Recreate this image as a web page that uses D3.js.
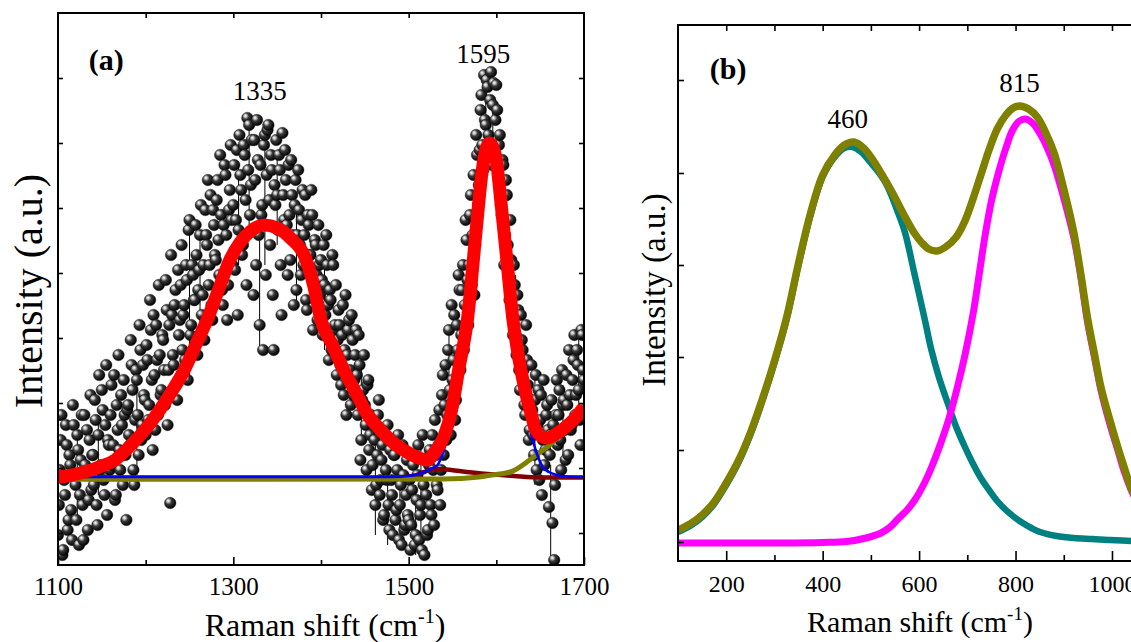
<!DOCTYPE html>
<html><head><meta charset="utf-8">
<script src="https://cdn.jsdelivr.net/npm/d3@7"></script>
<style>
body{margin:0;background:#fff;}
svg{display:block;}
text{font-family:"Liberation Serif","Times New Roman",serif;fill:#000;}
</style>
</head><body>
<svg id="c" width="1131" height="642"></svg>
<script>
// ---------- Panel (a) data: measured spectrum (two interleaved read-outs) ----------
const ramanShiftA = [
1100,1102,1104,1106,1108,1110,1112,1114,1116,1118,
1120,1122,1124,1126,1128,1130,1132,1134,1136,1138,
1140,1142,1144,1146,1148,1150,1152,1154,1156,1158,
1160,1162,1164,1166,1168,1170,1172,1174,1176,1178,
1180,1182,1184,1186,1188,1190,1192,1194,1196,1198,
1200,1202,1204,1206,1208,1210,1212,1214,1216,1218,
1220,1222,1224,1226,1228,1230,1232,1234,1236,1238,
1240,1242,1244,1246,1248,1250,1252,1254,1256,1258,
1260,1262,1264,1266,1268,1270,1272,1274,1276,1278,
1280,1282,1284,1286,1288,1290,1292,1294,1296,1298,
1300,1302,1304,1306,1308,1310,1312,1314,1316,1318,
1320,1322,1324,1326,1328,1330,1332,1334,1336,1338,
1340,1342,1344,1346,1348,1350,1352,1354,1356,1358,
1360,1362,1364,1366,1368,1370,1372,1374,1376,1378,
1380,1382,1384,1386,1388,1390,1392,1394,1396,1398,
1400,1402,1404,1406,1408,1410,1412,1414,1416,1418,
1420,1422,1424,1426,1428,1430,1432,1434,1436,1438,
1440,1442,1444,1446,1448,1450,1452,1454,1456,1458,
1460,1462,1464,1466,1468,1470,1472,1474,1476,1478,
1480,1482,1484,1486,1488,1490,1492,1494,1496,1498,
1500,1502,1504,1506,1508,1510,1512,1514,1516,1518,
1520,1522,1524,1526,1528,1530,1532,1534,1536,1538,
1540,1542,1544,1546,1548,1550,1552,1554,1556,1558,
1560,1562,1564,1566,1568,1570,1572,1574,1576,1578,
1580,1582,1584,1586,1588,1590,1592,1594,1596,1598,
1600,1602,1604,1606,1608,1610,1612,1614,1616,1618,
1620,1622,1624,1626,1628,1630,1632,1634,1636,1638,
1640,1642,1644,1646,1648,1650,1652,1654,1656,1658,
1660,1662,1664,1666,1668,1670,1672,1674,1676,1678,
1680,1682,1684,1686,1688,1690,1692,1694,1696,1698,
1700];
const intensityA = [
30,95,150,15,70,120,45,100,25,140,
80,130,20,105,60,150,90,35,125,75,
110,165,60,130,95,175,85,140,50,120,
150,100,190,70,135,115,170,80,150,45,
160,120,200,95,145,185,110,215,140,170,
130,205,160,235,115,190,240,150,210,175,
225,160,255,195,62,250,200,275,165,230,
280,215,260,300,185,345,240,290,265,310,
275,330,250,300,355,320,280,370,245,340,
305,385,290,350,260,400,330,280,375,345,
360,295,415,335,390,310,420,365,447,440,
380,335,425,300,405,240,350,215,430,390,
440,320,395,215,360,370,410,300,432,345,
385,290,350,405,330,360,275,395,320,345,
300,370,255,340,310,350,285,320,245,300,
305,230,280,330,260,275,215,300,240,190,
255,200,230,170,270,210,245,160,225,185,
235,150,200,125,175,160,95,185,130,75,
140,60,110,165,85,120,50,95,140,35,
85,30,110,55,130,60,20,90,40,105,
45,15,75,110,30,90,25,60,130,10,
70,35,115,50,95,145,80,120,60,170,
110,200,150,235,130,185,250,165,215,275,
230,300,260,325,240,350,280,390,320,410,
380,455,420,490,440,478,405,493,460,420,
480,390,430,350,400,330,370,290,345,255,
300,230,270,195,250,215,160,240,180,135,
200,130,165,95,175,145,70,185,115,160,
58,130,42,5,150,120,175,95,160,135,
190,110,170,140,205,150,215,175,120,230,
185];
const ramanShiftA2 = [
1101,1103,1105,1107,1109,1111,1113,1115,1117,1119,
1121,1123,1125,1127,1129,1131,1133,1135,1137,1139,
1141,1143,1145,1147,1149,1151,1153,1155,1157,1159,
1161,1163,1165,1167,1169,1171,1173,1175,1177,1179,
1181,1183,1185,1187,1189,1191,1193,1195,1197,1199,
1201,1203,1205,1207,1209,1211,1213,1215,1217,1219,
1221,1223,1225,1227,1229,1231,1233,1235,1237,1239,
1241,1243,1245,1247,1249,1251,1253,1255,1257,1259,
1261,1263,1265,1267,1269,1271,1273,1275,1277,1279,
1281,1283,1285,1287,1289,1291,1293,1295,1297,1299,
1301,1303,1305,1307,1309,1311,1313,1315,1317,1319,
1321,1323,1325,1327,1329,1331,1333,1335,1337,1339,
1341,1343,1345,1347,1349,1351,1353,1355,1357,1359,
1361,1363,1365,1367,1369,1371,1373,1375,1377,1379,
1381,1383,1385,1387,1389,1391,1393,1395,1397,1399,
1401,1403,1405,1407,1409,1411,1413,1415,1417,1419,
1421,1423,1425,1427,1429,1431,1433,1435,1437,1439,
1441,1443,1445,1447,1449,1451,1453,1455,1457,1459,
1461,1463,1465,1467,1469,1471,1473,1475,1477,1479,
1481,1483,1485,1487,1489,1491,1493,1495,1497,1499,
1501,1503,1505,1507,1509,1511,1513,1515,1517,1519,
1521,1523,1525,1527,1529,1531,1533,1535,1537,1539,
1541,1543,1545,1547,1549,1551,1553,1555,1557,1559,
1561,1563,1565,1567,1569,1571,1573,1575,1577,1579,
1581,1583,1585,1587,1589,1591,1593,1595,1597,1599,
1601,1603,1605,1607,1609,1611,1613,1615,1617,1619,
1621,1623,1625,1627,1629,1631,1633,1635,1637,1639,
1641,1643,1645,1647,1649,1651,1653,1655,1657,1659,
1661,1663,1665,1667,1669,1671,1673,1675,1677,1679,
1681,1683,1685,1687,1689,1691,1693,1695,1697,1699];
const intensityA2 = [
60,125,10,85,140,35,110,55,160,90,
45,115,70,150,25,100,135,65,170,110,
80,145,40,190,100,155,70,200,125,95,
180,120,65,160,210,95,140,185,110,155,
130,225,175,80,195,150,240,125,200,165,
220,145,265,185,250,135,205,280,170,230,
195,285,140,240,310,210,260,180,295,245,
320,250,205,285,335,230,300,265,340,210,
295,360,270,225,330,385,300,260,355,310,
365,325,410,275,340,390,245,355,420,300,
400,345,250,430,375,320,410,280,395,350,
425,270,385,445,330,400,360,420,290,435,
365,410,270,380,425,335,395,250,370,415,
340,400,305,370,260,385,330,355,290,375,
330,265,350,310,375,235,325,290,340,270,
285,320,250,300,205,265,310,235,280,225,
240,180,260,215,150,235,195,250,170,210,
190,230,105,165,210,140,180,115,150,100,
125,80,150,70,105,45,130,85,60,115,
70,110,45,95,25,80,120,35,70,50,
85,40,100,20,65,120,50,15,80,105,
30,100,60,130,40,110,75,155,95,190,
160,125,215,175,260,205,145,240,290,195,
275,215,345,285,300,370,330,270,430,360,
415,470,395,445,485,430,465,400,482,445,
455,420,360,405,300,385,320,265,305,230,
280,210,255,175,225,195,150,205,125,165,
155,110,190,140,85,170,125,100,150,135,
110,165,140,80,185,150,125,195,165,105,
160,215,135,185,230,170,200,145,235,195];
// error bars [shift, low, high]
const errorBarsA = [
[1122,40,130],[1146,70,150],[1190,90,190],[1250,180,345],[1262,240,330],
[1306,300,400],[1318,330,447],[1330,215,330],[1336,300,430],[1350,320,410],
[1372,260,360],[1404,215,300],[1446,120,210],[1462,30,120],[1476,20,90],
[1490,15,100],[1508,10,80],[1514,20,120],[1546,150,240],[1588,420,490],
[1596,410,470],[1622,200,290],[1644,80,190],[1662,5,100],[1676,110,180],[1694,160,230]];

// fit curves [shift, intensity]
const fitSumA = [[1100,88],[1110,89],[1130,93],[1150,99],[1165,105],[1180,117],[1208,145],[1225,167],[1244,195],
[1257,220],[1270,245],[1283,275],[1296,305],[1308,323],[1320,334],[1335,340],[1350,337],[1365,327],[1383,305],
[1392,278],[1400,245],[1413,220],[1426,195],[1440,172],[1452,152],[1468,135],[1483,122],[1500,112],[1512,107],
[1521,105],[1530,113],[1540,128],[1549,155],[1557,195],[1567,245],[1577,335],[1584,395],[1588,415],[1592,422],
[1596,418],[1600,405],[1605,365],[1612,305],[1619,245],[1626,205],[1632,178],[1640,150],[1645,135],[1651,129],
[1658,127],[1668,131],[1679,138],[1690,147],[1700,158]];
const gBandA = [[1100,88],[1480,88],[1500,89],[1515,92],[1525,96],[1533,100],[1540,115],[1549,145],[1557,188],
[1567,240],[1577,330],[1584,390],[1588,410],[1592,417],[1596,413],[1600,400],[1605,360],[1612,298],[1619,238],
[1626,196],[1632,165],[1638,138],[1646,112],[1653,98],[1660,93],[1669,90],[1680,88.5],[1700,88]];
const highBandA = [[1100,85.7],[1540,86],[1560,86.5],[1580,88],[1595,90],[1616,93],[1638,105],[1650,113],
[1661,120],[1670,128],[1680,137],[1690,148],[1700,160]];
const shoulderA = [[1100,87.5],[1490,87.5],[1505,89],[1518,93],[1528,96],[1533,96],[1562,93.5],[1590,91],
[1620,89],[1650,87.5],[1700,87.5]];

const xTicksMajorA = [1100,1300,1500,1700];
const xTicksMinorA = [1200,1400,1600];
const xTicksTopA = [1200,1300,1400,1500,1600];
const yTicksA = [32,97,162,227,292,357,422,487];

// ---------- Panel (b) data ----------
const sumB = [[100,31],[125,37],[150,46],[175,59],[200,78],[225,100],[250,128],[275,162],[300,200],[325,243],
[350,298],[375,348],[400,386],[425,406],[445,416],[465,419],[485,413],[500,404],[521,388],[545,368],[571,344],
[590,328],[606,318],[620,312],[637,310],[655,314],[677,324],[695,340],[711,361],[728,386],[745,411],[762,432],
[780,446],[795,453],[809,455],[827,452],[845,444],[862,429],[880,408],[900,372],[921,328],[935,288],[950,241],
[964,206],[977,174],[995,142],[1012,114],[1025,94],[1039,74],[1055,58],[1070,45],[1085,36],[1100,28]];
const band460B = [[100,29],[125,35],[150,44],[175,57],[200,76],[225,98],[250,126],[275,160],[300,198],[325,241],
[350,296],[375,346],[400,384],[425,404],[445,413],[462,414],[480,409],[500,398],[520,386],[535,374],[555,350],
[571,328],[590,288],[612,241],[625,212],[641,184],[660,157],[677,134],[695,114],[711,98],[728,83],[745,71],
[762,60],[780,51],[797,44],[815,38],[833,33],[851,29],[885,25],[921,23],[960,22],[992,21],[1039,20],[1100,20]];
const band815B = [[100,18],[300,18],[400,18.5],[450,19.5],[490,23],[521,28],[540,34],[556,42],[575,51],[591,61],
[610,77],[626,94],[645,118],[661,141],[680,175],[696,208],[713,250],[725,288],[737,326],[750,360],[765,389],
[780,413],[794,431],[808,440],[821,442],[835,438],[850,428],[865,414],[880,396],[900,363],[921,323],[935,285],
[950,237],[964,203],[977,171],[995,138],[1012,111],[1025,90],[1039,72],[1055,56],[1070,43],[1085,33],[1100,26]];
const xTicksMajorB = [200,400,600,800,1000];
const xTicksMinorB = [300,500,700,900];
const xTicksTopB = [200,300,400,500,600,700,800,900,1000];
const yTicksB = [19,111,204,296,388,481];

const peakLabelsA = [{t:"1335",x:1330,v:465},{t:"1595",x:1585,v:502}];
const peakLabelsB = [{t:"460",x:452,v:433},{t:"815",x:808,v:469}];

// ---------- drawing ----------
const svg = d3.select("#c");
svg.append("rect").attr("width",1131).attr("height",642).attr("fill","#fff");
const defs = svg.append("defs");
const grad = defs.append("radialGradient").attr("id","ball")
  .attr("cx","0.38").attr("cy","0.38").attr("r","0.62").attr("fx","0.32").attr("fy","0.3");
[[0,"#ffffff"],[0.18,"#c8c8c8"],[0.45,"#3a3a3a"],[1,"#000000"]].forEach(s=>
  grad.append("stop").attr("offset",s[0]).attr("stop-color",s[1]));

function frameAxes(g, x, y, cfg){
  const [x0,x1]=x.range(), [y0,y1]=y.range();
  const styleAxis = sel => { sel.select(".domain").remove(); sel.selectAll(".tick line").attr("stroke","#000").attr("stroke-width",1.6); };
  g.append("g").attr("transform",`translate(0,${y0})`)
    .call(d3.axisBottom(x).tickValues(cfg.major).tickSize(-cfg.majorLen).tickPadding(cfg.pad).tickFormat(d3.format("d")))
    .call(styleAxis).call(s=>s.selectAll("text").style("font-size",cfg.font+"px").style("font-family","Liberation Serif").attr("fill","#000"));
  g.append("g").attr("transform",`translate(0,${y0})`)
    .call(d3.axisBottom(x).tickValues(cfg.minor).tickSize(-cfg.minorLen).tickFormat("")).call(styleAxis);
  g.append("g").attr("transform",`translate(0,${y1})`)
    .call(d3.axisTop(x).tickValues(cfg.top).tickSize(-cfg.minorLen).tickFormat("")).call(styleAxis);
  g.append("g").attr("transform",`translate(${x0},0)`)
    .call(d3.axisLeft(y).tickValues(cfg.yt).tickSize(-cfg.minorLen).tickFormat("")).call(styleAxis);
  g.append("g").attr("transform",`translate(${x1},0)`)
    .call(d3.axisRight(y).tickValues(cfg.yt).tickSize(-cfg.minorLen).tickFormat("")).call(styleAxis);
  g.append("rect").attr("x",x0).attr("y",y1).attr("width",x1-x0).attr("height",y0-y1)
    .attr("fill","none").attr("stroke","#000").attr("stroke-width",2);
}
function xTitle(x,y,size,supSize,shift){
  const t = svg.append("text").attr("x",x).attr("y",y).attr("text-anchor","middle").style("font-size",size+"px");
  t.append("tspan").text("Raman shift (cm");
  t.append("tspan").attr("dy",-shift).style("font-size",supSize+"px").text("-1");
  t.append("tspan").attr("dy",shift).text(")");
}

// Panel (a)
const xA = d3.scaleLinear().domain([1100,1700]).range([58,584]);
const yA = d3.scaleLinear().domain([0,552]).range([565,13]);
defs.append("clipPath").attr("id","clipA").append("rect").attr("x",58).attr("y",13).attr("width",526).attr("height",552);
const gA = svg.append("g");
const plotA = gA.append("g").attr("clip-path","url(#clipA)");
plotA.selectAll("line.err").data(errorBarsA).join("line").attr("class","err")
  .attr("x1",d=>xA(d[0])).attr("x2",d=>xA(d[0])).attr("y1",d=>yA(d[1])).attr("y2",d=>yA(d[2]))
  .attr("stroke","#000").attr("stroke-width",1);
const pts = ramanShiftA.map((x,i)=>[x,intensityA[i]])
  .concat(ramanShiftA2.map((x,i)=>[x,intensityA2[i]]))
  .sort((a,b)=>a[0]-b[0]);
plotA.selectAll("circle").data(pts).join("circle")
  .attr("cx",d=>xA(d[0])).attr("cy",d=>yA(d[1])).attr("r",5.8)
  .attr("fill","url(#ball)").attr("stroke","#111").attr("stroke-width",0.4);
const lineA = d3.line().x(d=>xA(d[0])).y(d=>yA(d[1])).curve(d3.curveMonotoneX);
[[shoulderA,"#800000",4.5],[highBandA,"#808000",5],[gBandA,"#0000ff",2.6],[fitSumA,"#ff0000",13]].forEach(([d,c,w])=>
  plotA.append("path").datum(d).attr("d",lineA).attr("fill","none").attr("stroke",c).attr("stroke-width",w).attr("stroke-linejoin","round"));
frameAxes(gA,xA,yA,{major:xTicksMajorA,minor:xTicksMinorA,top:xTicksTopA,yt:yTicksA,majorLen:8,minorLen:5,pad:12,font:25});
gA.selectAll(".pk").data(peakLabelsA).join("text").attr("class","pk")
  .attr("x",d=>xA(d.x)).attr("y",d=>yA(d.v)).attr("text-anchor","middle").style("font-size","27px").text(d=>d.t);
gA.append("text").attr("x",xA(1135)).attr("y",yA(495)).style("font-size","30px").style("font-weight","bold").text("(a)");
svg.append("text").attr("transform","translate(42,291) rotate(-90)").attr("text-anchor","middle").style("font-size","40px").text("Intensity (a.u.)");
xTitle(325,636,32,20,13);

// Panel (b)
const xB = d3.scaleLinear().domain([100,1100]).range([678,1160.2]);
const yB = d3.scaleLinear().domain([0,536]).range([561,25]);
defs.append("clipPath").attr("id","clipB").append("rect").attr("x",678).attr("y",25).attr("width",482).attr("height",536);
const gB = svg.append("g");
const plotB = gB.append("g").attr("clip-path","url(#clipB)");
const lineB = d3.line().x(d=>xB(d[0])).y(d=>yB(d[1])).curve(d3.curveCatmullRom.alpha(0.5));
[[band460B,"#008080",6.5],[band815B,"#ff00ff",7],[sumB,"#808000",7.5]].forEach(([d,c,w])=>
  plotB.append("path").datum(d).attr("d",lineB).attr("fill","none").attr("stroke",c).attr("stroke-width",w).attr("stroke-linejoin","round"));
frameAxes(gB,xB,yB,{major:xTicksMajorB,minor:xTicksMinorB,top:xTicksTopB,yt:yTicksB,majorLen:10,minorLen:6,pad:14,font:24});
gB.selectAll(".pk").data(peakLabelsB).join("text").attr("class","pk")
  .attr("x",d=>xB(d.x)).attr("y",d=>yB(d.v)).attr("text-anchor","middle").style("font-size","27px").text(d=>d.t);
gB.append("text").attr("x",xB(166)).attr("y",yB(482)).style("font-size","30px").style("font-weight","bold").text("(b)");
svg.append("text").attr("transform","translate(665,290) rotate(-90)").attr("text-anchor","middle").style("font-size","33px").text("Intensity (a.u.)");
xTitle(920,632,30,19,12);
</script>
</body></html>
